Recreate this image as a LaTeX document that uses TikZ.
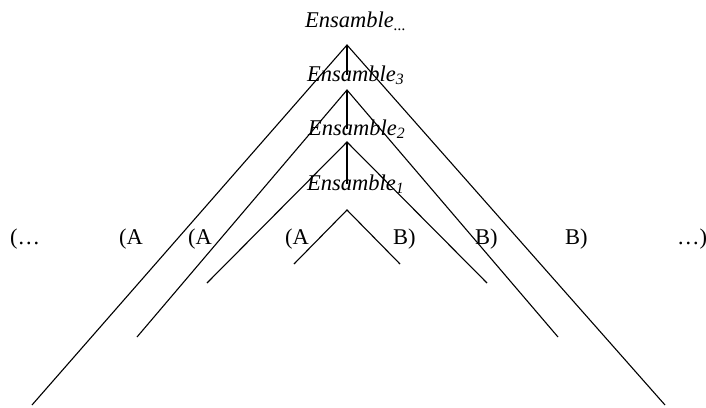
\documentclass[tikz,border=0pt]{standalone}
\usepackage{fontspec}
\setmainfont{Liberation Serif}

\begin{document}
\begin{tikzpicture}[
    x=1pt, y=-1pt,
    wedge/.style={line width=1.1pt}, % Bracket lines
    setlabel/.style={anchor=base west, inner sep=0pt, font=\fontsize{22.5}{27}\itshape},
    termlabel/.style={anchor=base west, inner sep=0pt, font=\fontsize{22.5}{27}\selectfont}
]
    \useasboundingbox (0,0) rectangle (706,407);

    % Set labels
    \node (e4) [setlabel] at (305,27)  {Ensamble\textsubscript{...}};
    \node (e3) [setlabel] at (307,81)  {Ensamble\textsubscript{3}};
    \node (e2) [setlabel] at (308,135) {Ensamble\textsubscript{2}};
    \node (e1) [setlabel] at (307,190) {Ensamble\textsubscript{1}};

    % Apexes
    \coordinate (a3) at (347,45);
    \coordinate (a2) at (347,90);
    \coordinate (a1) at (347,142);
    \coordinate (a0) at (347,210);

    % Left ends
    \coordinate (l3) at (32,405);
    \coordinate (l2) at (137,337);
    \coordinate (l1) at (207,283);
    \coordinate (l0) at (294,264);

    % Right ends
    \coordinate (r3) at (665,405);
    \coordinate (r2) at (558,337);
    \coordinate (r1) at (487,283);
    \coordinate (r0) at (400,264);

    % Row of terms
    \node (p0) [termlabel] at (10,244)  {(\ldots};
    \node (p1) [termlabel] at (119,244) {(A};
    \node (p2) [termlabel] at (188,244) {(A};
    \node (p3) [termlabel] at (285,244) {(A};
    \node (q3) [termlabel] at (393,244) {B)};
    \node (q2) [termlabel] at (475,244) {B)};
    \node (q1) [termlabel] at (565,244) {B)};
    \node (q0) [termlabel] at (677,244) {\ldots)};

    % Wedges
    \draw[wedge] (l3) -- (a3) -- (r3);
    \draw[wedge] (l2) -- (a2) -- (r2);
    \draw[wedge] (l1) -- (a1) -- (r1);
    \draw[wedge] (l0) -- (a0) -- (r0);

    % Stems
    \draw[wedge] (a3) -- (a3 |- e3.center);
    \draw[wedge] (a2) -- (a2 |- e2.center);
    \draw[wedge] (a1) -- (a1 |- e1.center);

\end{tikzpicture}
\end{document}
